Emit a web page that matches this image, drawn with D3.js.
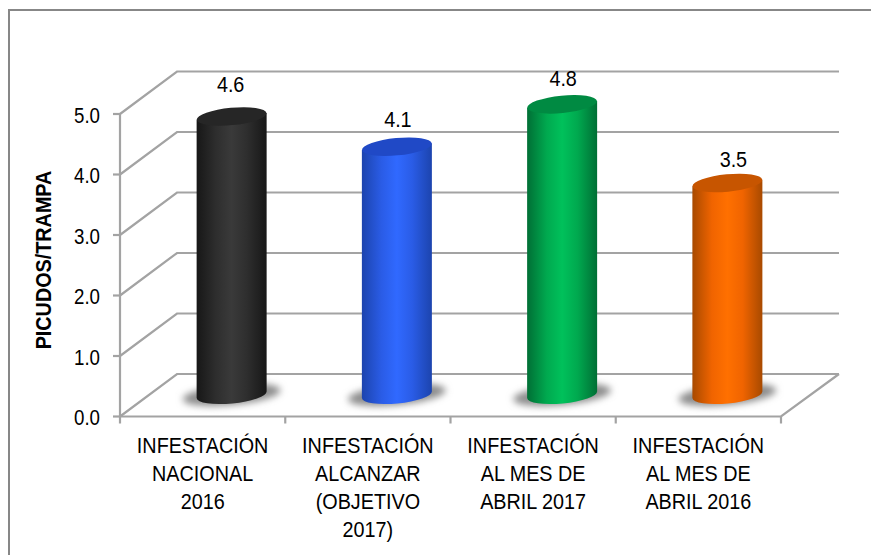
<!DOCTYPE html>
<html>
<head>
<meta charset="utf-8">
<script src="https://cdn.jsdelivr.net/npm/d3@7"></script>
<style>
  body { margin: 0; background: #fff; overflow: hidden; }
  svg { display: block; }
  text { font-family: "Liberation Sans", sans-serif; fill: #000; }
</style>
</head>
<body>
<script>
var categories = [
    ["INFESTACIÓN", "NACIONAL", "2016"],
    ["INFESTACIÓN", "ALCANZAR", "(OBJETIVO", "2017)"],
    ["INFESTACIÓN", "AL MES DE", "ABRIL 2017"],
    ["INFESTACIÓN", "AL MES DE", "ABRIL 2016"]
];
var values = [4.6, 4.1, 4.8, 3.5];
var yTicks = [0, 1, 2, 3, 4, 5];
var yTitle = "PICUDOS/TRAMPA";
var barColors = [
    { mid: "#3a3a3a", near: "#2e2e2e", edge: "#171717", top: "#262626" },
    { mid: "#3069ff", near: "#2a5ce6", edge: "#1c44ae", top: "#2049c6" },
    { mid: "#00c15b", near: "#00a94f", edge: "#006f35", top: "#008a42" },
    { mid: "#ff7000", near: "#f06400", edge: "#a84a00", top: "#c75500" }
];
// hand nudges, the original labels do not sit quite on their bars
var labelDx = [-1, 1, 1, 6];
var labelDy = [-4, 0, 2, 3.5];

var w = 871, h = 555;
var depthX = 57, depthY = -42.5;
var rx = 35, ry = 8.7, tilt = -5.5;
var grid = "#a3a3a3";
var narrow = 0.85;
var narrowLabel = 0.9;

var x = d3.scaleBand().domain(d3.range(categories.length)).range([120, 781]);
var y = d3.scaleLinear().domain([0, 5]).range([416.5, 114]);

var svg = d3.select("body").append("svg").attr("width", w).attr("height", h);

// gradients for the cylinders, and the blur for their shadows
var defs = svg.append("defs");
barColors.forEach(function (c, i) {
    var g = defs.append("linearGradient").attr("id", "bar" + i);
    [[0, c.edge], [28, c.near], [50, c.mid], [72, c.near], [100, c.edge]].forEach(function (s) {
        g.append("stop").attr("offset", s[0] + "%").attr("stop-color", s[1]);
    });
});
defs.append("filter").attr("id", "blur")
    .attr("x", "-30%").attr("y", "-80%").attr("width", "160%").attr("height", "260%")
    .append("feGaussianBlur").attr("stdDeviation", 3.5);

// outer frame, only top and left are inside the picture
svg.append("path")
    .attr("d", d3.line()([[w, 10], [9, 10], [9, h]]))
    .attr("fill", "none").attr("stroke", "#878787").attr("stroke-width", 2);

// back wall gridlines and side wall
var wall = svg.append("g").attr("fill", "none").attr("stroke", grid).attr("stroke-width", 2.2);
yTicks.forEach(function (t) {
    wall.append("path").attr("d", d3.line()([
        [x.range()[0], y(t)],
        [x.range()[0] + depthX, y(t) + depthY],
        [x.range()[1] + depthX + 1, y(t) + depthY]
    ]));
    wall.append("line")
        .attr("x1", x.range()[0] - 7).attr("x2", x.range()[0])
        .attr("y1", y(t)).attr("y2", y(t));
});
// floor edges
wall.append("path").attr("d", d3.line()([
    [x.range()[0], y(0)],
    [x.range()[1], y(0)],
    [x.range()[1] + depthX + 1, y(0) + depthY]
]));
wall.append("line")
    .attr("x1", x.range()[0]).attr("x2", x.range()[0])
    .attr("y1", y(5)).attr("y2", y(0) + 7);
d3.range(1, categories.length + 1).forEach(function (i) {
    var px = i < categories.length ? x(i) : x.range()[1];
    wall.append("line").attr("x1", px).attr("x2", px)
        .attr("y1", y(0)).attr("y2", y(0) + 7);
});

// cylinders
var bars = svg.append("g").selectAll("g").data(values).enter().append("g")
    .attr("transform", function (d, i) {
        return "translate(" + (x(i) + x.bandwidth() / 2 + depthX / 2 + 0.5) + ",0)";
    });

var baseY = y(0) + depthY / 2 - 0.5;

function topY(d) {
    return baseY - (y(0) - y(d));
}

bars.append("ellipse")
    .attr("cx", 0).attr("cy", baseY).attr("rx", rx + 14).attr("ry", ry + 1.5)
    .attr("transform", "rotate(" + tilt + " 0 " + baseY + ")")
    .attr("fill", "#8c8c8c").attr("filter", "url(#blur)");

function side(d) {
    var dy = rx * Math.sin(-tilt * Math.PI / 180);
    return "M" + (-rx) + "," + (topY(d) + dy) +
        "L" + (-rx) + "," + (baseY + dy) +
        "A" + rx + "," + ry + " " + tilt + " 0 0 " + rx + "," + (baseY - dy) +
        "L" + rx + "," + (topY(d) - dy) + "Z";
}
bars.append("path")
    .attr("d", side)
    .attr("fill", function (d, i) { return "url(#bar" + i + ")"; });

bars.append("ellipse")
    .attr("cx", 0)
    .attr("cy", topY)
    .attr("rx", rx).attr("ry", ry)
    .attr("transform", function (d) {
        return "rotate(" + tilt + " 0 " + topY(d) + ")";
    })
    .attr("fill", function (d, i) { return barColors[i].top; });

// value labels
bars.append("text")
    .attr("text-anchor", "middle")
    .attr("transform", function (d, i) {
        return "translate(" + labelDx[i] + "," + (topY(d) - 20 + labelDy[i]) + ") scale(" + narrowLabel + ",1)";
    })
    .style("font-size", "22px")
    .text(function (d) { return d.toFixed(1); });

// y tick labels
svg.append("g").selectAll("text").data(yTicks).enter().append("text")
    .attr("text-anchor", "end")
    .attr("transform", function (d) {
        return "translate(100," + (y(d) + 8.5) + ") scale(" + narrow + ",1)";
    })
    .style("font-size", "22px")
    .text(function (d) { return d.toFixed(1); });

// y axis title
svg.append("text")
    .attr("transform", "translate(51,260) rotate(-90) scale(0.9,1)")
    .attr("text-anchor", "middle")
    .style("font-size", "22px").style("font-weight", "bold")
    .text(yTitle);

// category labels
var labels = svg.append("g").selectAll("g").data(categories).enter().append("g");
labels.selectAll("text").data(function (d, i) {
    return d.map(function (s, j) { return { s: s, i: i, j: j }; });
}).enter().append("text")
    .attr("text-anchor", "middle")
    .attr("transform", function (d) {
        return "translate(" + (x(d.i) + x.bandwidth() / 2) + "," + (453 + d.j * 27.9) + ") scale(" + narrowLabel + ",1)";
    })
    .style("font-size", "22px")
    .text(function (d) { return d.s; });
</script>
</body>
</html>
